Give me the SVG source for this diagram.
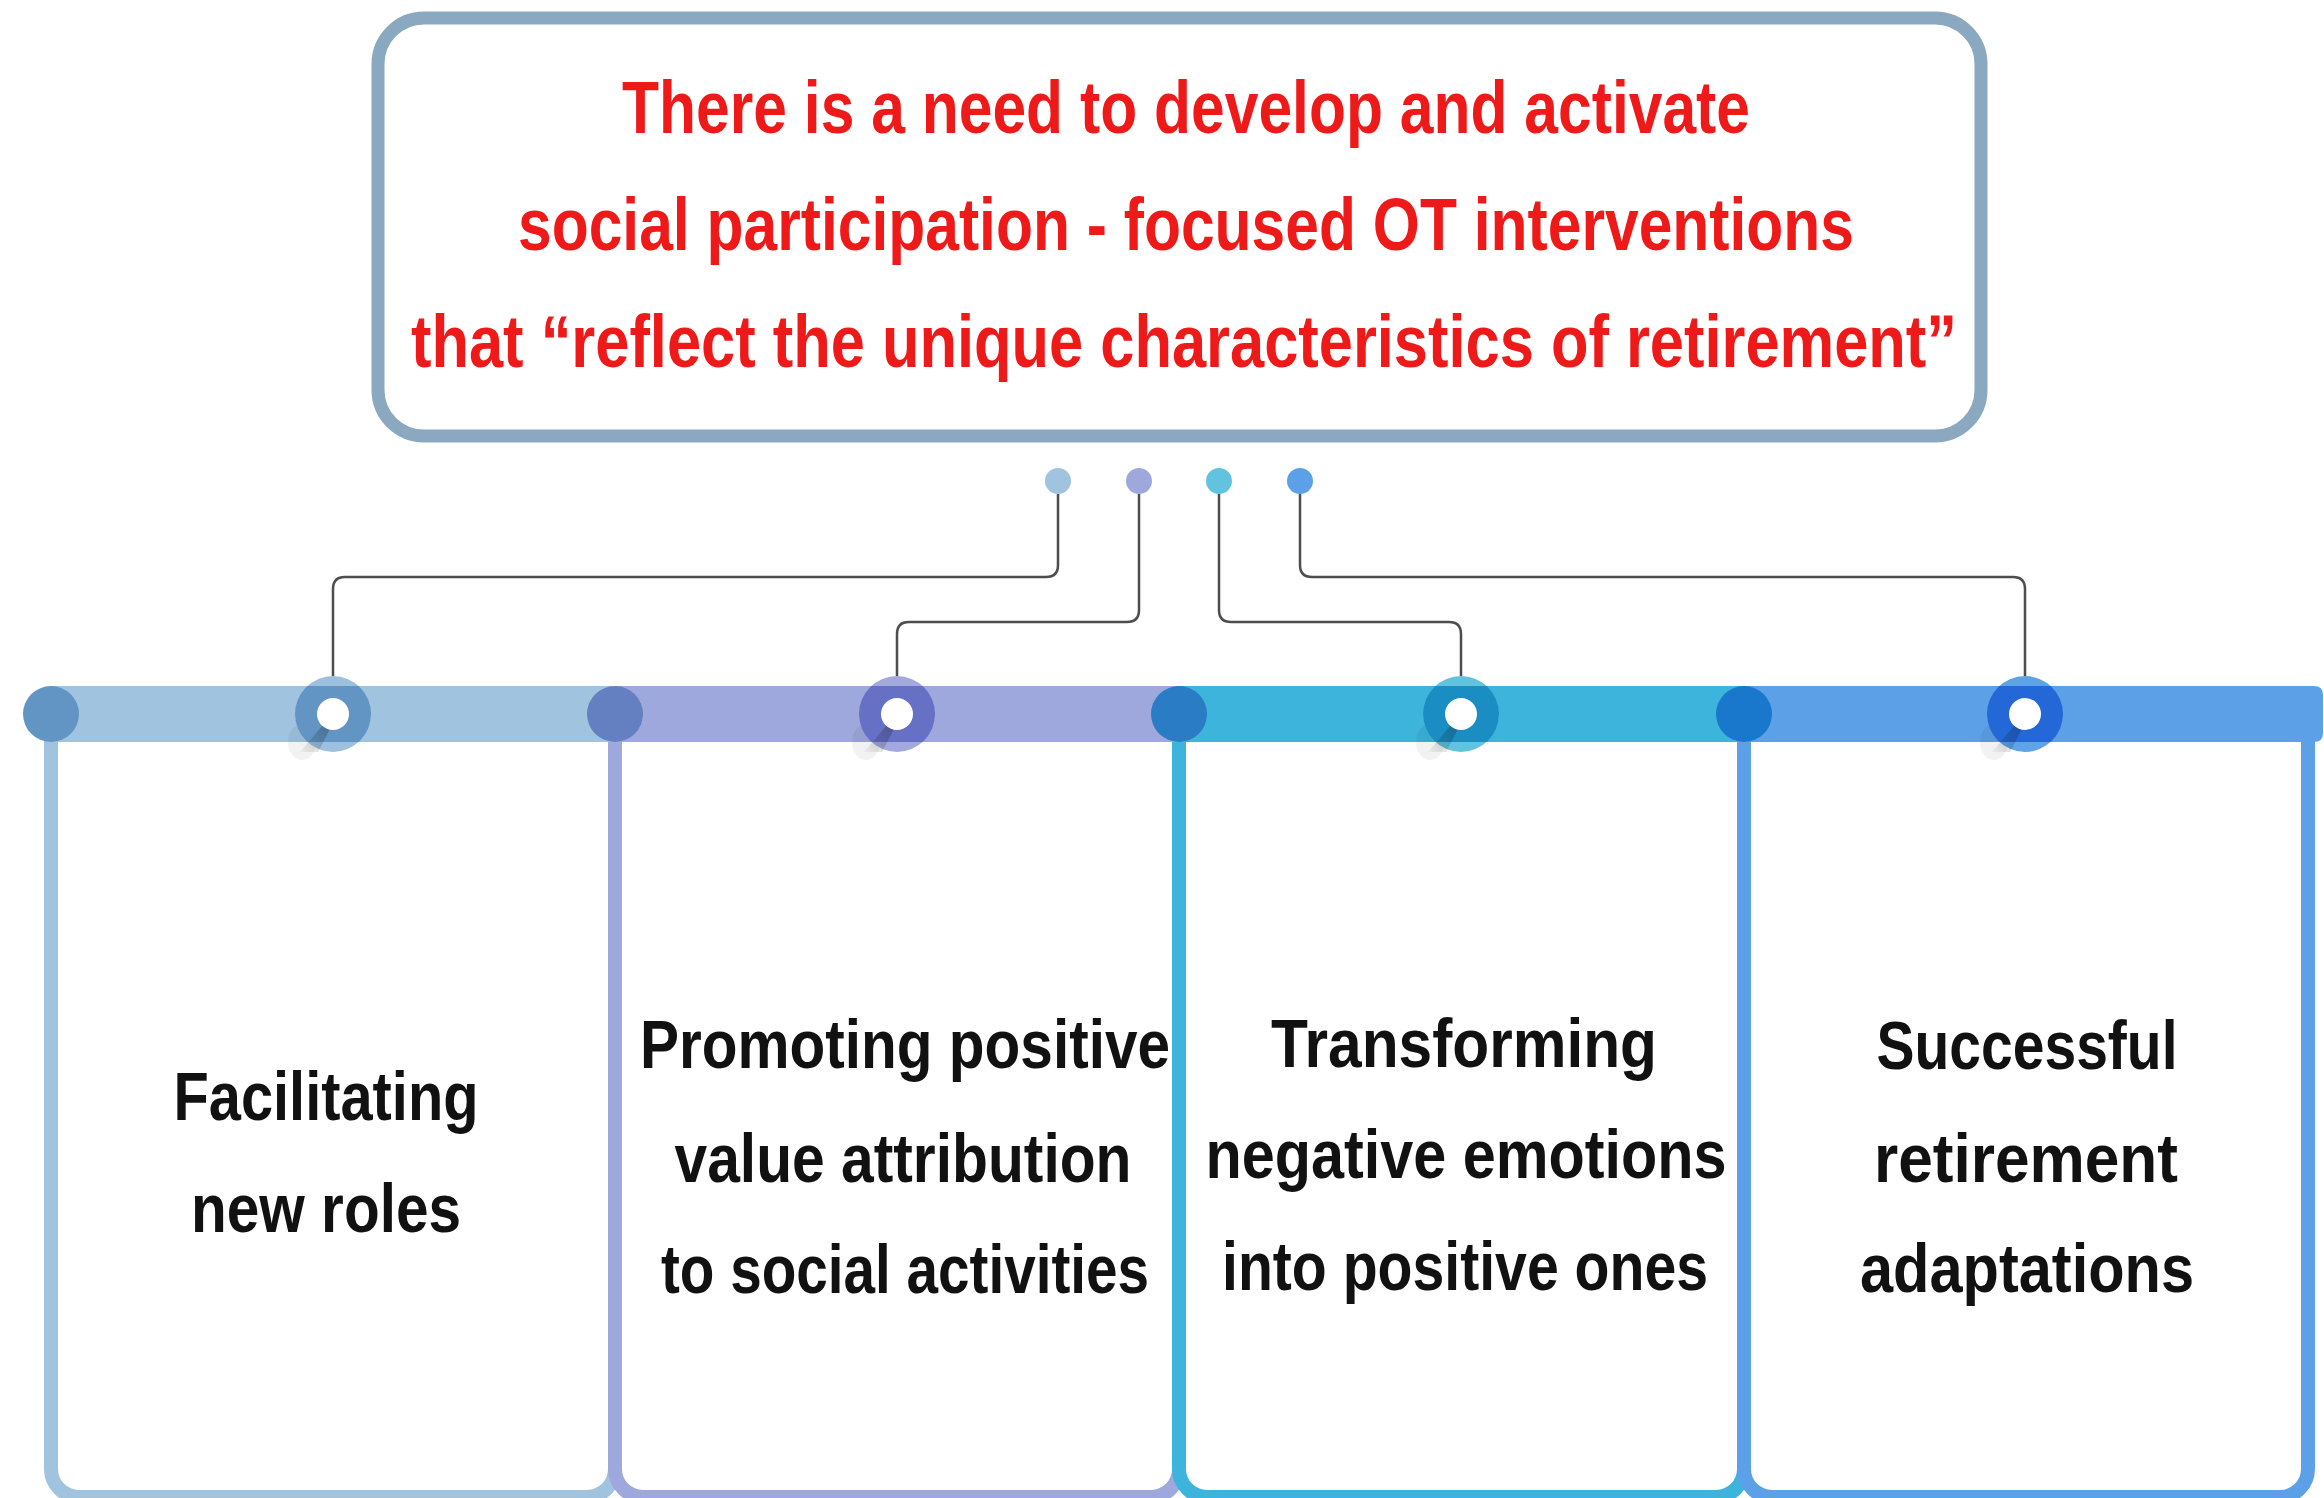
<svg xmlns="http://www.w3.org/2000/svg" width="2324" height="1498" viewBox="0 0 2324 1498">
<style>
.title{font-family:"Liberation Sans","Noto Sans CJK KR",sans-serif;font-weight:bold;font-size:75px;fill:#EE1A1A;text-anchor:middle}
.lbl{font-family:"Liberation Sans","Noto Sans CJK KR",sans-serif;font-weight:bold;font-size:68px;fill:#111111;text-anchor:middle}
.card{fill:#FFFFFF;stroke-width:14}
.conn{fill:none;stroke:#4D4D4D;stroke-width:2.5}
</style>
<defs>
<clipPath id="barclip"><rect x="0" y="686" width="2324" height="56"/></clipPath>
<linearGradient id="sh" x1="1" y1="0" x2="0" y2="1">
<stop offset="0" stop-color="#1a2a40" stop-opacity="0.45"/>
<stop offset="1" stop-color="#000000" stop-opacity="0.03"/>
</linearGradient>
</defs>
<rect width="2324" height="1498" fill="#FFFFFF"/>

<g id="top-box">
<rect x="378" y="18" width="1603" height="418" rx="46" fill="#FFFFFF" stroke="#8AA8C0" stroke-width="13"/>
<text class="title" x="1186" y="133" textLength="1128" lengthAdjust="spacingAndGlyphs">There is a need to develop and activate</text>
<text class="title" x="1186" y="250" textLength="1336" lengthAdjust="spacingAndGlyphs">social participation - focused OT interventions</text>
<text class="title" x="1184" y="367" textLength="1546" lengthAdjust="spacingAndGlyphs">that “reflect the unique characteristics of retirement”</text>
</g>

<g id="card1">
<rect class="card" x="51" y="714" width="564" height="783" rx="28" stroke="#A0C3DF"/>
<text class="lbl" x="326" y="1120" textLength="305" lengthAdjust="spacingAndGlyphs">Facilitating</text>
<text class="lbl" x="326" y="1232" textLength="270" lengthAdjust="spacingAndGlyphs">new roles</text>
</g>
<g id="card2">
<rect class="card" x="615" y="714" width="564" height="783" rx="28" stroke="#9FA8DC"/>
<text class="lbl" x="905" y="1068" textLength="530" lengthAdjust="spacingAndGlyphs">Promoting positive</text>
<text class="lbl" x="903" y="1182" textLength="457" lengthAdjust="spacingAndGlyphs">value attribution</text>
<text class="lbl" x="905" y="1293" textLength="488" lengthAdjust="spacingAndGlyphs">to social activities</text>
</g>
<g id="card3">
<rect class="card" x="1179" y="714" width="565" height="783" rx="28" stroke="#3CB4DC"/>
<text class="lbl" x="1464" y="1067" textLength="386" lengthAdjust="spacingAndGlyphs">Transforming</text>
<text class="lbl" x="1466" y="1178" textLength="521" lengthAdjust="spacingAndGlyphs">negative emotions</text>
<text class="lbl" x="1465" y="1290" textLength="486" lengthAdjust="spacingAndGlyphs">into positive ones</text>
</g>
<g id="card4">
<rect class="card" x="1744" y="714" width="564" height="783" rx="28" stroke="#5CA0E8"/>
<text class="lbl" x="2027" y="1069" textLength="301" lengthAdjust="spacingAndGlyphs">Successful</text>
<text class="lbl" x="2026" y="1182" textLength="304" lengthAdjust="spacingAndGlyphs">retirement</text>
<text class="lbl" x="2027" y="1292" textLength="334" lengthAdjust="spacingAndGlyphs">adaptations</text>
</g>

<g id="timeline">
<rect x="51" y="686" width="564" height="56" fill="#A0C3DF"/>
<rect x="615" y="686" width="564" height="56" fill="#9FA8DC"/>
<rect x="1179" y="686" width="565" height="56" fill="#3CB4DC"/>
<path d="M1744,686 H2314 Q2323,686 2323,695 V733 Q2323,742 2314,742 H1744 Z" fill="#5CA0E8"/>
<circle cx="51" cy="714" r="28" fill="#6395C4"/>
<circle cx="615" cy="714" r="28" fill="#6580C0"/>
<circle cx="1179" cy="714" r="28" fill="#2A7DC4"/>
<circle cx="1744" cy="714" r="28" fill="#1A78CC"/>
</g>

<g id="connectors">
<path class="conn" d="M1058,494 V565 Q1058,577 1046,577 H345 Q333,577 333,589 V676"/>
<path class="conn" d="M1139,494 V610 Q1139,622 1127,622 H909 Q897,622 897,634 V676"/>
<path class="conn" d="M1219,494 V610 Q1219,622 1231,622 H1449 Q1461,622 1461,634 V676"/>
<path class="conn" d="M1300,494 V565 Q1300,577 1312,577 H2013 Q2025,577 2025,589 V676"/>
<circle cx="1058" cy="481" r="13" fill="#A0C3DF"/>
<circle cx="1139" cy="481" r="13" fill="#9FA8DC"/>
<circle cx="1219" cy="481" r="13" fill="#62C3DE"/>
<circle cx="1300" cy="481" r="13" fill="#5CA0E8"/>
</g>

<g id="node-dot1">
<ellipse cx="302" cy="742" rx="14" ry="18" fill="#000000" opacity="0.05"/>
<circle cx="333" cy="714" r="38" fill="#9DC0DE"/>
<circle cx="333" cy="714" r="38" fill="#6395C4" clip-path="url(#barclip)"/>
<path d="M322,726 L344,702 L318,752 L300,752 Z" fill="url(#sh)"/>
<circle cx="333" cy="714" r="16" fill="#FFFFFF"/>
</g>
<g id="node-dot2">
<ellipse cx="866" cy="742" rx="14" ry="18" fill="#000000" opacity="0.05"/>
<circle cx="897" cy="714" r="38" fill="#A3A9DC"/>
<circle cx="897" cy="714" r="38" fill="#6670C4" clip-path="url(#barclip)"/>
<path d="M886,726 L908,702 L882,752 L864,752 Z" fill="url(#sh)"/>
<circle cx="897" cy="714" r="16" fill="#FFFFFF"/>
</g>
<g id="node-dot3">
<ellipse cx="1430" cy="742" rx="14" ry="18" fill="#000000" opacity="0.05"/>
<circle cx="1461" cy="714" r="38" fill="#62C3DE"/>
<circle cx="1461" cy="714" r="38" fill="#1A8EC2" clip-path="url(#barclip)"/>
<path d="M1450,726 L1472,702 L1446,752 L1428,752 Z" fill="url(#sh)"/>
<circle cx="1461" cy="714" r="16" fill="#FFFFFF"/>
</g>
<g id="node-dot4">
<ellipse cx="1994" cy="742" rx="14" ry="18" fill="#000000" opacity="0.05"/>
<circle cx="2025" cy="714" r="38" fill="#5EA2E8"/>
<circle cx="2025" cy="714" r="38" fill="#2468D8" clip-path="url(#barclip)"/>
<path d="M2014,726 L2036,702 L2010,752 L1992,752 Z" fill="url(#sh)"/>
<circle cx="2025" cy="714" r="16" fill="#FFFFFF"/>
</g>
</svg>
